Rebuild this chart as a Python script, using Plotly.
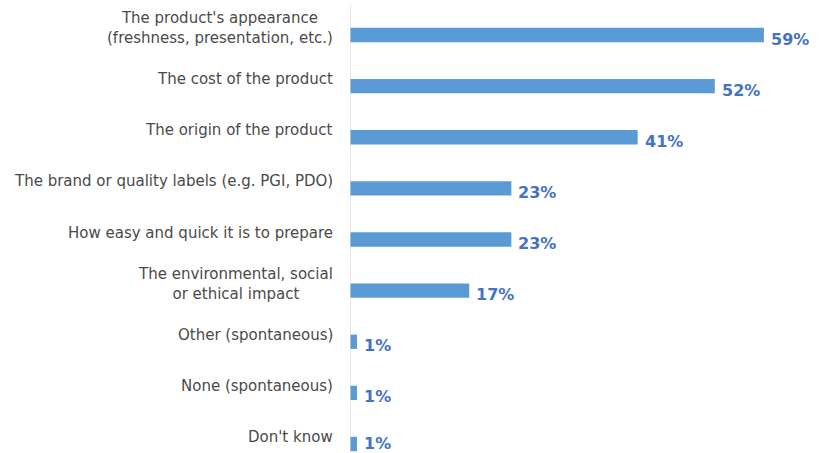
import plotly.graph_objects as go

categories = [
    "The product's appearance<br>(freshness, presentation, etc.)",
    "The cost of the product",
    "The origin of the product",
    "The brand or quality labels (e.g. PGI, PDO)",
    "How easy and quick it is to prepare",
    "The environmental, social<br>or ethical impact",
    "Other (spontaneous)",
    "None (spontaneous)",
    "Don't know",
]
values = [59, 52, 41, 23, 23, 17, 1, 1, 1]
value_labels = [f"{v}%" for v in values]

BAR_COLOR = "#5B9BD5"
LABEL_COLOR = "#4472C4"
TEXT_COLOR = "#4A4A4A"

fig = go.Figure(
    go.Bar(
        x=values,
        y=categories,
        orientation="h",
        width=0.28,
        marker=dict(color=BAR_COLOR, line=dict(width=0)),
        hoverinfo="skip",
    )
)

n = len(categories)
for i, (cat, v, lab) in enumerate(zip(categories, values, value_labels)):
    # category label, multi-line blocks centred on themselves
    fig.add_annotation(
        xref="paper", x=0, y=cat, text=cat, showarrow=False,
        xanchor="right", yanchor="middle", align="center",
        xshift=-15, yshift=7,
        font=dict(family="DejaVu Sans", size=15, color=TEXT_COLOR),
    )
    # value label; keep the last one inside the bottom edge of the page
    shift = -4 if i < n - 1 else 1
    fig.add_annotation(
        x=v, y=cat, text=f"<b>{lab}</b>", showarrow=False,
        xanchor="left", yanchor="middle", xshift=5, yshift=shift,
        font=dict(family="DejaVu Sans", size=16, color=LABEL_COLOR),
    )

# thin vertical baseline at zero
fig.add_shape(
    type="line", xref="x", yref="paper", x0=0, x1=0, y0=0, y1=0.99,
    line=dict(color="#D9D9D9", width=1.2),
)

fig.update_layout(
    width=821, height=453,
    margin=dict(l=350, r=15, t=0, b=0),
    plot_bgcolor="white", paper_bgcolor="white",
    showlegend=False,
    font=dict(family="DejaVu Sans", size=15, color=TEXT_COLOR),
    xaxis=dict(range=[0, 65], showgrid=False, zeroline=False,
               showticklabels=False, showline=False, fixedrange=True),
    yaxis=dict(
        categoryorder="array", categoryarray=categories,
        range=[8.176, -0.685], showgrid=False, zeroline=False,
        showline=False, ticks="", showticklabels=False,
        fixedrange=True,
    ),
)

fig.write_html("out.html")
